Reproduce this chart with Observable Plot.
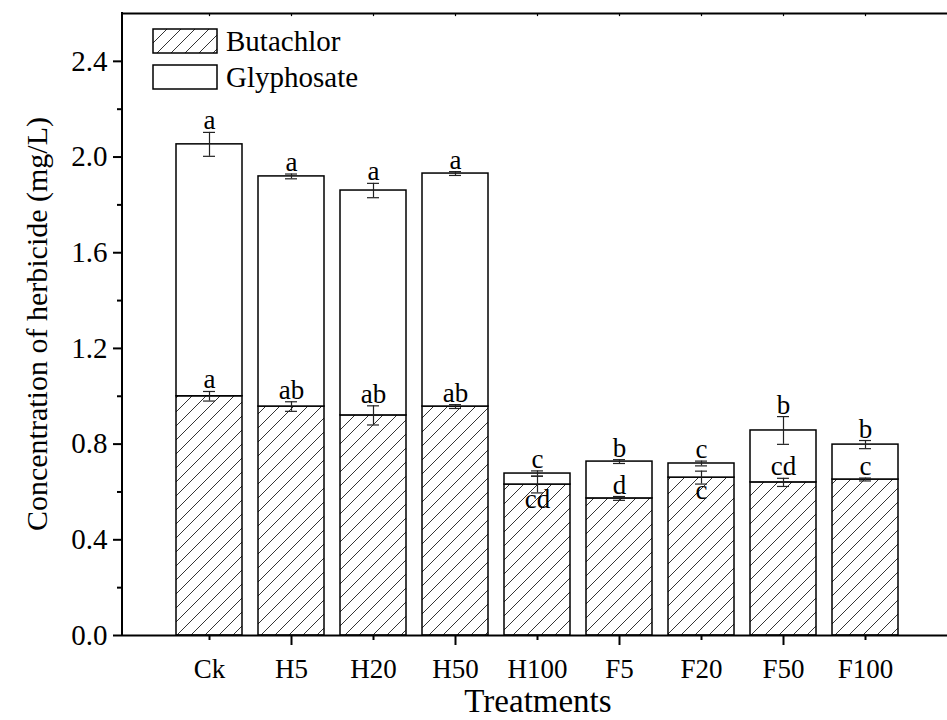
<!DOCTYPE html>
<html>
<head>
<meta charset="utf-8">
<script src="https://cdn.jsdelivr.net/npm/d3@7"></script>
<script src="https://cdn.jsdelivr.net/npm/@observablehq/plot@0.6"></script>
<style>
  html, body { margin: 0; padding: 0; background: white; }
  #chart { width: 947px; height: 720px; overflow: hidden; }
  #chart svg text { font-family: "Liberation Serif", "Times New Roman", serif !important; }
</style>
</head>
<body>
<div id="chart"></div>
<script>
// ---- data ----
const treatments = ["Ck", "H5", "H20", "H50", "H100", "F5", "F20", "F50", "F100"];
const butachlor     = [1.00, 0.957, 0.92, 0.957, 0.631, 0.573, 0.66, 0.64, 0.652];
const butachlorErr  = [0.02, 0.02, 0.04, 0.008, 0.035, 0.008, 0.027, 0.017, 0.006];
const total         = [2.053, 1.919, 1.86, 1.931, 0.677, 0.727, 0.719, 0.857, 0.798];
const totalErr      = [0.05, 0.01, 0.03, 0.008, 0.011, 0.008, 0.01, 0.058, 0.017];
const butachlorLetters = ["a", "ab", "ab", "ab", "cd", "d", "c", "cd", "c"];
const totalLetters     = ["a", "a", "a", "a", "c", "b", "c", "b", "b"];
const yMajorTicks = [0, 0.4, 0.8, 1.2, 1.6, 2.0, 2.4];
const yMinorTicks = [0.2, 0.6, 1.0, 1.4, 1.8, 2.2];
const seriesNames = ["Butachlor", "Glyphosate"];

const rows = treatments.map((t, i) => ({
  t,
  but: butachlor[i],
  butErr: butachlorErr[i],
  tot: total[i],
  totErr: totalErr[i],
  gly: total[i] - butachlor[i],
  butLetter: butachlorLetters[i],
  totLetter: totalLetters[i]
}));
const butAbove = rows.filter(d => d.gly >= 0.1);
const butBelow = rows.filter(d => d.gly < 0.1);

const FONT = "Liberation Serif, Times New Roman, serif";
const W = 947, H = 720, ML = 122, MT = 13, MB = 85;

const chart = Plot.plot({
  width: W,
  height: H,
  marginLeft: ML,
  marginRight: 0,
  marginTop: MT,
  marginBottom: MB,
  style: { fontFamily: FONT, color: "black", background: "white", overflow: "hidden" },
  x: { domain: treatments, range: [ML, 952], paddingInner: 0.19, paddingOuter: 0.6, axis: null, label: null },
  y: { domain: [0, 2.6], axis: null, label: null },
  marks: [
    // bars
    Plot.barY(rows, { x: "t", y1: 0, y2: "but", fill: "url(#hatch)", stroke: "black", strokeWidth: 1.5 }),
    Plot.barY(rows, { x: "t", y1: "but", y2: "tot", fill: "white", stroke: "black", strokeWidth: 1.5 }),
    // error bars - totals
    Plot.ruleX(rows, { x: "t", y1: d => d.tot - d.totErr, y2: d => d.tot + d.totErr, stroke: "#222", strokeWidth: 1.2 }),
    Plot.tickY(rows, { x: "t", y: d => d.tot - d.totErr, stroke: "#222", strokeWidth: 1.2, insetLeft: 27, insetRight: 27 }),
    Plot.tickY(rows, { x: "t", y: d => d.tot + d.totErr, stroke: "#222", strokeWidth: 1.2, insetLeft: 27, insetRight: 27 }),
    // error bars - butachlor
    Plot.ruleX(rows, { x: "t", y1: d => d.but - d.butErr, y2: d => d.but + d.butErr, stroke: "#222", strokeWidth: 1.2 }),
    Plot.tickY(rows, { x: "t", y: d => d.but - d.butErr, stroke: "#222", strokeWidth: 1.2, insetLeft: 27, insetRight: 27 }),
    Plot.tickY(rows, { x: "t", y: d => d.but + d.butErr, stroke: "#222", strokeWidth: 1.2, insetLeft: 27, insetRight: 27 }),
    // significance letters
    Plot.text(rows, { x: "t", y: d => d.tot + d.totErr, text: "totLetter", lineAnchor: "bottom", dy: -3, fontSize: 27, fill: "black" }),
    Plot.text(butAbove, { x: "t", y: d => d.but + d.butErr, text: "butLetter", lineAnchor: "bottom", dy: -3, fontSize: 27, fill: "black" }),
    Plot.text(butBelow, { x: "t", y: d => d.but - d.butErr, text: "butLetter", lineAnchor: "top", dy: -4, fontSize: 27, fill: "black" }),
    // frame lines
    Plot.ruleY([0], { stroke: "black", strokeWidth: 2 }),
    Plot.ruleY([2.6], { stroke: "black", strokeWidth: 2 }),
    Plot.ruleX(treatments, { x: d => d, y1: 2.6, y2: 2.587, stroke: "black", strokeWidth: 1.2 }),
    // x axis ticks and labels
    Plot.axisX({ ticks: treatments.filter((d, i) => i % 2 === 1), tickSize: 10, tickFormat: () => "", strokeWidth: 2, label: null }),
    Plot.axisX({ ticks: treatments.filter((d, i) => i % 2 === 0), tickSize: 5, tickFormat: () => "", strokeWidth: 2, label: null }),
    Plot.text(treatments, { x: d => d, frameAnchor: "bottom", text: d => d, dy: 42, fontSize: 27, fill: "black" }),
    // y axis ticks and labels
    Plot.axisY({ ticks: yMajorTicks, tickSize: 9, tickPadding: 6, tickFormat: d3.format(".1f"), fontSize: 29, strokeWidth: 2, label: null }),
    Plot.axisY({ ticks: yMinorTicks, tickSize: 5, tickFormat: () => "", strokeWidth: 2, label: null })
  ]
});

const svg = d3.select(chart);
// hatch pattern
const defs = svg.insert("defs", ":first-child");
const pat = defs.append("pattern")
  .attr("id", "hatch").attr("patternUnits", "userSpaceOnUse")
  .attr("width", 14).attr("height", 14);
pat.append("rect").attr("width", 14).attr("height", 14).attr("fill", "white");
pat.append("path")
  .attr("d", "M0,14 L14,0 M-3.5,3.5 L3.5,-3.5 M10.5,17.5 L17.5,10.5")
  .attr("stroke", "black").attr("stroke-width", 0.8).attr("fill", "none");

// left axis line
svg.append("line").attr("x1", ML).attr("x2", ML).attr("y1", MT - 1).attr("y2", H - MB + 1)
  .attr("stroke", "black").attr("stroke-width", 2);

// axis titles
svg.append("text").text("Treatments")
  .attr("x", 538).attr("y", 712).attr("text-anchor", "middle")
  .attr("font-family", FONT).attr("font-size", 33).attr("fill", "black");
svg.append("text").text("Concentration of herbicide (mg/L)")
  .attr("transform", "translate(47,324) rotate(-90)").attr("text-anchor", "middle")
  .attr("font-family", FONT).attr("font-size", 30).attr("fill", "black");

// legend (inside plot, top-left)
const legend = svg.append("g");
seriesNames.forEach((name, i) => {
  legend.append("rect")
    .attr("x", 153).attr("y", 29 + i * 36).attr("width", 64).attr("height", 24)
    .attr("fill", i === 0 ? "url(#hatch)" : "white")
    .attr("stroke", "black").attr("stroke-width", 1.5);
  legend.append("text").text(name)
    .attr("x", 226).attr("y", 51 + i * 36).attr("text-anchor", "start")
    .attr("font-family", FONT).attr("font-size", 29).attr("fill", "black");
});

document.getElementById("chart").appendChild(chart);
</script>
</body>
</html>
